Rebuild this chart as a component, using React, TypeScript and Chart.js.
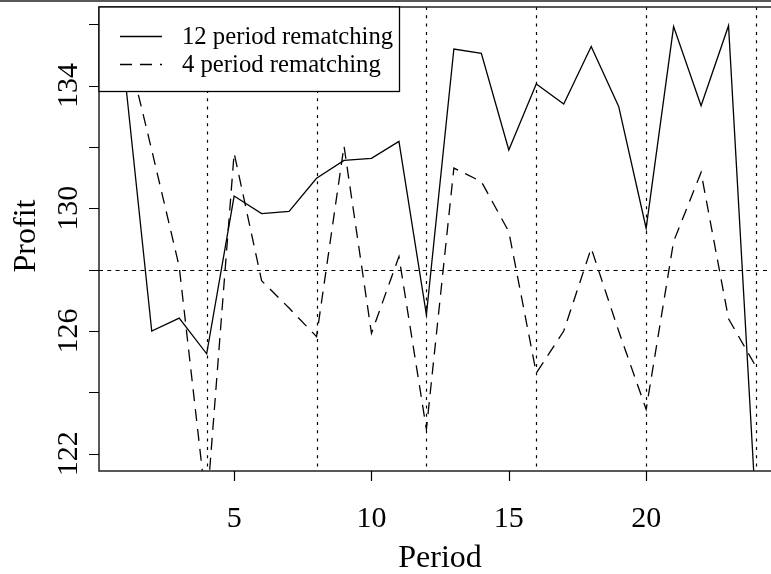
import React, { useEffect, useRef } from 'react';
import { Chart, registerables } from 'chart.js';

Chart.register(...registerables);

const periods = [1, 2, 3, 4, 5, 6, 7, 8, 9, 10, 11, 12, 13, 14, 15, 16, 17, 18, 19, 20, 21, 22, 23, 24];
const profit12 = [134.5, 126.0, 126.42, 125.26, 130.4, 129.83, 129.9, 130.98, 131.56, 131.63, 132.18, 126.53,
  135.19, 135.05, 131.9, 134.05, 133.4, 135.27, 133.32, 129.35, 135.92, 133.34, 135.95, 120.1];
const profit4 = [135.6, 131.9, 128.1, 120.2, 131.8, 127.64, 126.75, 125.82, 132.03, 125.93, 128.43, 122.8,
  131.31, 130.87, 129.24, 124.63, 126.0, 128.7, 126.0, 123.45, 128.92, 131.17, 126.4, 124.84];
const seriesNames = ['12 period rematching', '4 period rematching'];
const xTicks = [5, 10, 15, 20];
const yTicks = [122, 124, 126, 128, 130, 132, 134, 136];
const yTickLabels = [122, 126, 130, 134];
const vLines = [4, 8, 12, 16, 20, 24];
const hLine = 128;
const xTitle = 'Period';
const yTitle = 'Profit';

const FONT = '"Liberation Serif", "Times New Roman", serif';

const rPlot = {
  id: 'rPlot',
  afterDatasetsDraw(chart: any) {
    const { ctx, chartArea: a, scales } = chart;
    const x = scales.x;
    const y = scales.y;
    ctx.save();
    // reference lines
    ctx.save();
    ctx.beginPath();
    ctx.rect(a.left, a.top, a.right - a.left, a.bottom - a.top);
    ctx.clip();
    ctx.strokeStyle = '#000';
    ctx.lineWidth = 1.2;
    ctx.setLineDash([3, 5.3]);
    ctx.beginPath();
    vLines.forEach((v) => {
      const px = Math.round(x.getPixelForValue(v)) + 0.5;
      ctx.moveTo(px, a.top);
      ctx.lineTo(px, a.bottom);
    });
    ctx.stroke();
    ctx.setLineDash([4, 4.3]);
    ctx.beginPath();
    const hy = Math.round(y.getPixelForValue(hLine)) + 0.5;
    ctx.moveTo(a.left, hy);
    ctx.lineTo(a.right, hy);
    ctx.stroke();
    ctx.restore();

    // box (left, top, bottom)
    ctx.setLineDash([]);
    ctx.strokeStyle = '#222';
    ctx.lineWidth = 1.5;
    ctx.beginPath();
    ctx.moveTo(a.right + 2, a.top);
    ctx.lineTo(a.left, a.top);
    ctx.lineTo(a.left, a.bottom);
    ctx.lineTo(a.right + 2, a.bottom);
    ctx.stroke();

    // page top line
    ctx.beginPath();
    ctx.moveTo(0, 1);
    ctx.lineTo(chart.width, 1);
    ctx.stroke();

    // ticks
    ctx.lineWidth = 1.2;
    ctx.strokeStyle = '#000';
    ctx.beginPath();
    xTicks.forEach((v) => {
      const px = Math.round(x.getPixelForValue(v)) + 0.5;
      ctx.moveTo(px, a.bottom);
      ctx.lineTo(px, a.bottom + 10);
    });
    yTicks.forEach((v) => {
      const py = Math.round(y.getPixelForValue(v)) + 0.5;
      ctx.moveTo(a.left, py);
      ctx.lineTo(a.left - 10, py);
    });
    ctx.stroke();

    // tick labels
    ctx.fillStyle = '#000';
    ctx.font = `30px ${FONT}`;
    ctx.textAlign = 'center';
    ctx.textBaseline = 'alphabetic';
    xTicks.forEach((v) => {
      ctx.fillText(String(v), x.getPixelForValue(v), a.bottom + 56);
    });
    yTickLabels.forEach((v) => {
      ctx.save();
      ctx.translate(a.left - 22, y.getPixelForValue(v));
      ctx.rotate(-Math.PI / 2);
      ctx.fillText(String(v), 0, 0);
      ctx.restore();
    });

    // axis titles
    ctx.font = `32px ${FONT}`;
    ctx.fillText(xTitle, 440, a.bottom + 96);
    ctx.save();
    ctx.translate(35, 236);
    ctx.rotate(-Math.PI / 2);
    ctx.fillText(yTitle, 0, 0);
    ctx.restore();

    // legend
    const lx = a.left, ly = a.top, lw = 300.5, lh = 84.5;
    ctx.fillStyle = '#fff';
    ctx.fillRect(lx, ly, lw, lh);
    ctx.strokeStyle = '#000';
    ctx.lineWidth = 1.3;
    ctx.strokeRect(lx, ly, lw, lh);
    const rows = [36, 64];
    const dashes = [[], [12, 8]];
    ctx.font = `24.7px ${FONT}`;
    ctx.textAlign = 'left';
    rows.forEach((ry, i) => {
      ctx.setLineDash(dashes[i]);
      ctx.beginPath();
      ctx.moveTo(120, ry + 0.5);
      ctx.lineTo(162, ry + 0.5);
      ctx.stroke();
      ctx.setLineDash([]);
      ctx.fillStyle = '#000';
      ctx.fillText(seriesNames[i], 182, ry + 7.5);
    });
    ctx.restore();
  },
};

export default function App() {
  const ref = useRef<HTMLCanvasElement | null>(null);
  useEffect(() => {
    document.body.style.margin = '0';
    document.body.style.overflow = 'hidden';
    const canvas = ref.current;
    if (!canvas) return;
    const chart = new Chart(canvas, {
      type: 'line',
      data: {
        datasets: [
          {
            label: seriesNames[0],
            data: periods.map((p, i) => ({ x: p, y: profit12[i] })),
            borderColor: '#000',
            borderWidth: 1.3,
            pointRadius: 0,
            tension: 0,
            fill: false,
          },
          {
            label: seriesNames[1],
            data: periods.map((p, i) => ({ x: p, y: profit4[i] })),
            borderColor: '#000',
            borderWidth: 1.3,
            borderDash: [12, 8],
            pointRadius: 0,
            tension: 0,
            fill: false,
          },
        ],
      },
      options: {
        animation: false,
        responsive: false,
        devicePixelRatio: 1,
        layout: { padding: { left: 99, top: 7, right: 0, bottom: 103 } },
        plugins: { legend: { display: false }, tooltip: { enabled: false } },
        events: [],
        scales: {
          x: { type: 'linear', display: false, min: 0.08, max: 24.546 },
          y: { type: 'linear', display: false, min: 121.44, max: 136.56 },
        },
      },
      plugins: [rPlot],
    });
    return () => chart.destroy();
  }, []);
  return (
    <div style={{ position: 'fixed', left: 0, top: 0, width: 771, height: 574, background: '#fff' }}>
      <canvas ref={ref} width={771} height={574} />
    </div>
  );
}
